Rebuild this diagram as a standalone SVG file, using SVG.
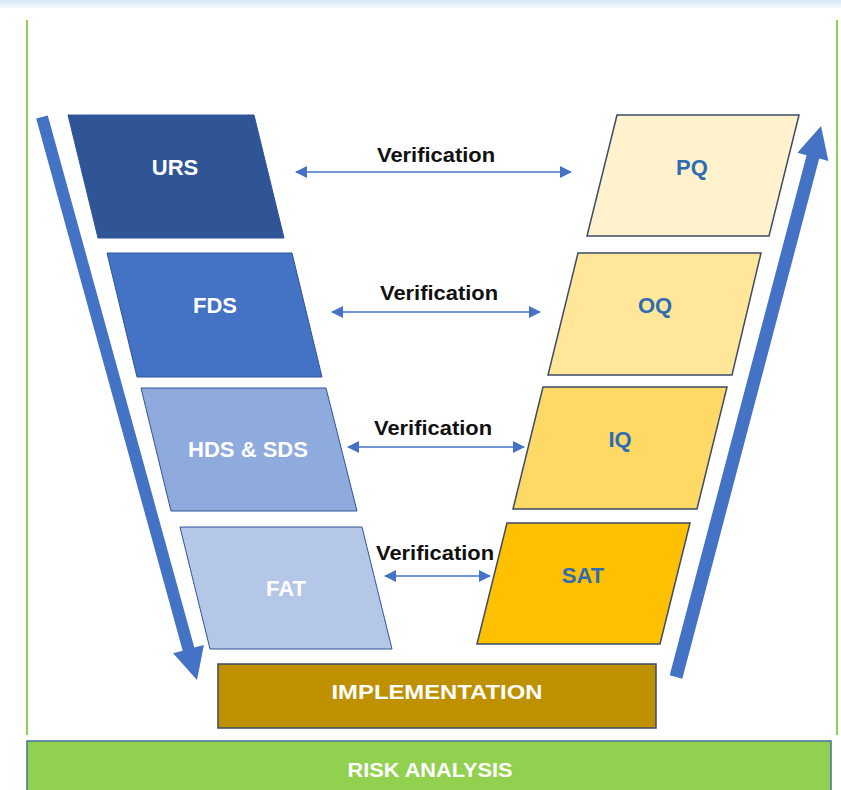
<svg xmlns="http://www.w3.org/2000/svg" width="841" height="790" viewBox="0 0 841 790">
<style>
.lbl{font-family:"Liberation Sans",Arial,sans-serif;font-weight:bold;text-anchor:middle}
.w{fill:#ffffff;font-size:22px}
.b{fill:#2E6DB4;font-size:22px}
.ver{fill:#111111;font-size:20px}
.lb{stroke:#2F5597;stroke-width:1}
.rb{stroke:#3D4B66;stroke-width:1.5}
.vline{stroke:#4472C4;stroke-width:1.6;fill:none;marker-start:url(#ah);marker-end:url(#ah)}
.big{fill:#4472C4}
</style>
<defs>
<linearGradient id="topg" x1="0" y1="0" x2="0" y2="1">
<stop offset="0" stop-color="#D6E9F5"/>
<stop offset="1" stop-color="#F4F9FC"/>
</linearGradient>
<marker id="ah" viewBox="0 0 12 12" refX="11" refY="6" markerWidth="13" markerHeight="12" markerUnits="userSpaceOnUse" orient="auto-start-reverse">
<path d="M0,0 L12,6 L0,12 z" fill="#4472C4"/>
</marker>
</defs>
<rect x="0" y="0" width="841" height="790" fill="#ffffff"/>
<rect x="0" y="0" width="841" height="8" fill="url(#topg)"/>
<g id="frame">
<line x1="27" y1="20" x2="27" y2="735" stroke="#92D050" stroke-width="2"/>
<line x1="837" y1="20" x2="837" y2="735" stroke="#92D050" stroke-width="2"/>
</g>
<g id="urs"><polygon class="lb" points="68,115 254,115 284,238 98,238" fill="#2F5597"/><text class="lbl w" x="175" y="175">URS</text></g>
<g id="fds"><polygon class="lb" points="107,253 292,253 322,377 137,377" fill="#4472C4"/><text class="lbl w" x="215" y="313">FDS</text></g>
<g id="hds"><polygon class="lb" points="141,388 326,388 357,511 171,511" fill="#8FAADC"/><text class="lbl w" x="248" y="457">HDS &amp; SDS</text></g>
<g id="fat"><polygon class="lb" points="180,527 362,527 392,649 210,649" fill="#B4C7E7"/><text class="lbl w" x="286" y="596">FAT</text></g>
<g id="pq"><polygon class="rb" points="617,115 799,115 769,236 587,236" fill="#FFF2CC"/><text class="lbl b" x="692" y="175">PQ</text></g>
<g id="oq"><polygon class="rb" points="578,253 761,253 732,375 548,375" fill="#FFE699"/><text class="lbl b" x="655" y="313">OQ</text></g>
<g id="iq"><polygon class="rb" points="543,387 727,387 697,509 513,509" fill="#FFD966"/><text class="lbl b" x="620" y="447">IQ</text></g>
<g id="sat"><polygon class="rb" points="507,523 690,523 660,644 477,644" fill="#FFC000"/><text class="lbl b" x="583" y="583">SAT</text></g>
<g id="implementation"><rect x="218" y="664" width="438" height="64" fill="#BF9000" stroke="#3D4B66" stroke-width="1.5"/><text class="lbl" x="437" y="699" fill="#ffffff" font-size="21" textLength="211" lengthAdjust="spacingAndGlyphs">IMPLEMENTATION</text></g>
<g id="risk"><rect x="27" y="741" width="804" height="52" fill="#92D050" stroke="#41719C" stroke-width="1.5"/><text class="lbl" x="430" y="777" fill="#ffffff" font-size="21" textLength="165" lengthAdjust="spacingAndGlyphs">RISK ANALYSIS</text></g>
<g id="connectors">
<polygon class="big" points="47.8,115.4 194.3,647.5 203.9,644.9 197,680 173.1,653.3 182.7,650.7 36.2,118.6"/>
<polygon class="big" points="682.3,678.7 819.2,158.6 828.4,161 821,126 797.4,152.8 806.6,155.2 669.7,675.3"/>
<line class="vline" x1="296" y1="172" x2="571" y2="172"/>
<text class="lbl ver" x="436" y="162" textLength="118" lengthAdjust="spacingAndGlyphs">Verification</text>
<line class="vline" x1="332" y1="312" x2="540" y2="312"/>
<text class="lbl ver" x="439" y="300" textLength="118" lengthAdjust="spacingAndGlyphs">Verification</text>
<line class="vline" x1="348" y1="447" x2="524" y2="447"/>
<text class="lbl ver" x="433" y="435" textLength="118" lengthAdjust="spacingAndGlyphs">Verification</text>
<line class="vline" x1="385" y1="576" x2="490" y2="576"/>
<text class="lbl ver" x="435" y="560" textLength="118" lengthAdjust="spacingAndGlyphs">Verification</text>
</g>
</svg>
